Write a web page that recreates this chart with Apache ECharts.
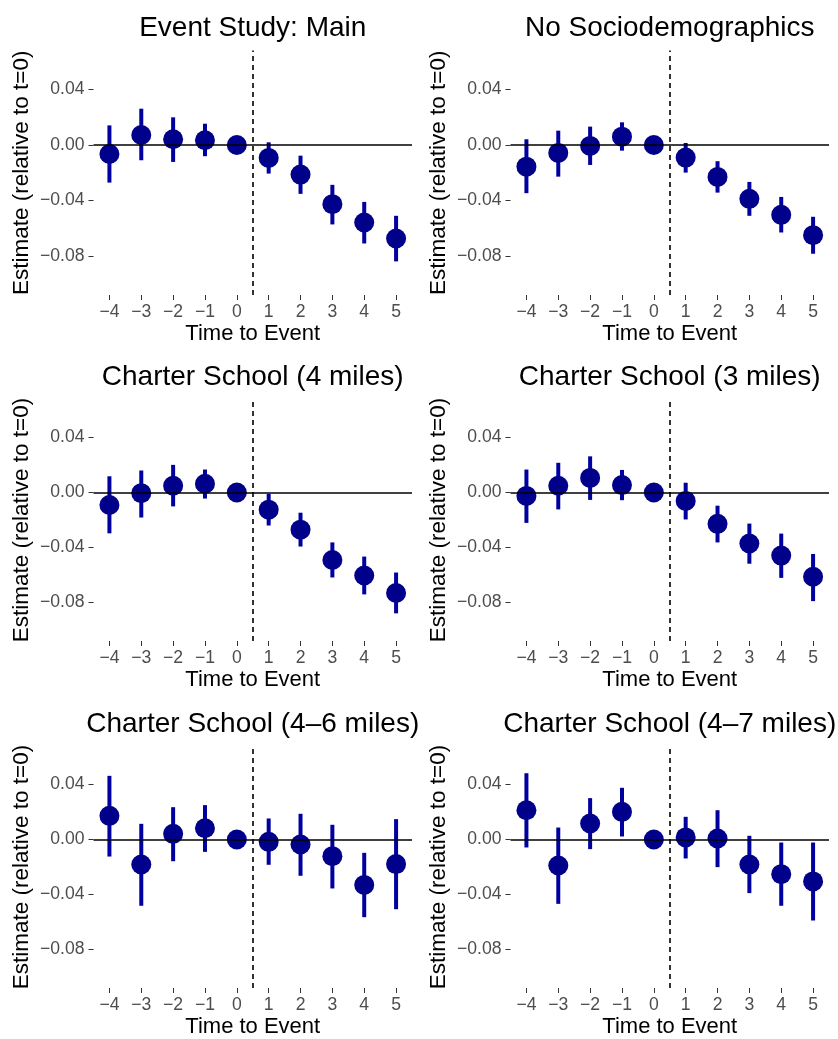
<!DOCTYPE html>
<html>
<head>
<meta charset="utf-8">
<style>
  html, body { margin: 0; padding: 0; background: #fff; }
  #chart { width: 838px; height: 1039px; }
</style>
<script src="https://cdn.jsdelivr.net/npm/echarts@6/dist/echarts.min.js"></script>
</head>
<body>
<div id="chart"></div>
<script>
// time to event (x) and tick labels
const times = [-4, -3, -2, -1, 0, 1, 2, 3, 4, 5];
const yTicks = [0.04, 0, -0.04, -0.08];

// Event Study: Main
const mainEst = [-0.0065, 0.0072, 0.0041, 0.0034, 0, -0.0093, -0.0213, -0.0426, -0.0558, -0.0673];
const mainLo = [-0.0271, -0.0110, -0.0122, -0.0081, 0, -0.0206, -0.0352, -0.0572, -0.0709, -0.0838];
const mainHi = [0.0141, 0.0261, 0.0199, 0.0153, 0, 0.0019, -0.0077, -0.0287, -0.0410, -0.0510];

// No Sociodemographics
const noSocioEst = [-0.0156, -0.0057, -0.0007, 0.0060, 0, -0.0091, -0.0230, -0.0388, -0.0503, -0.0649];
const noSocioLo = [-0.0347, -0.0228, -0.0144, -0.0041, 0, -0.0199, -0.0343, -0.0510, -0.0630, -0.0783];
const noSocioHi = [0.0041, 0.0103, 0.0132, 0.0163, 0, 0.0014, -0.0117, -0.0266, -0.0374, -0.0517];

// Charter School (4 miles)
const cs4Est = [-0.0091, -0.0005, 0.0049, 0.0064, 0, -0.0125, -0.0270, -0.0491, -0.0604, -0.0731];
const cs4Lo = [-0.0297, -0.0182, -0.0101, -0.0044, 0, -0.0240, -0.0393, -0.0618, -0.0741, -0.0879];
const cs4Hi = [0.0118, 0.0160, 0.0201, 0.0167, 0, -0.0010, -0.0147, -0.0363, -0.0466, -0.0582];

// Charter School (3 miles)
const cs3Est = [-0.0025, 0.0049, 0.0106, 0.0054, 0, -0.0061, -0.0228, -0.0371, -0.0459, -0.0613];
const cs3Lo = [-0.0221, -0.0123, -0.0054, -0.0056, 0, -0.0196, -0.0363, -0.0518, -0.0621, -0.0790];
const cs3Hi = [0.0167, 0.0216, 0.0263, 0.0164, 0, 0.0071, -0.0096, -0.0226, -0.0299, -0.0447];

// Charter School (4–6 miles)
const cs46Est = [0.0172, -0.0182, 0.0041, 0.0082, 0, -0.0017, -0.0036, -0.0121, -0.0330, -0.0179];
const cs46Lo = [-0.0124, -0.0482, -0.0158, -0.0090, 0, -0.0184, -0.0264, -0.0356, -0.0565, -0.0507];
const cs46Hi = [0.0463, 0.0114, 0.0235, 0.0250, 0, 0.0153, 0.0187, 0.0107, -0.0097, 0.0148];

// Charter School (4–7 miles)
const cs47Est = [0.0213, -0.0189, 0.0116, 0.0201, 0, 0.0015, 0.0007, -0.0182, -0.0252, -0.0305];
const cs47Lo = [-0.0058, -0.0468, -0.0070, 0.0022, 0, -0.0138, -0.0201, -0.0390, -0.0482, -0.0589];
const cs47Hi = [0.0482, 0.0087, 0.0301, 0.0376, 0, 0.0165, 0.0213, 0.0027, -0.0022, -0.0022];

const panels = [
  { title: 'Event Study: Main', est: mainEst, lo: mainLo, hi: mainHi },
  { title: 'No Sociodemographics', est: noSocioEst, lo: noSocioLo, hi: noSocioHi },
  { title: 'Charter School (4 miles)', est: cs4Est, lo: cs4Lo, hi: cs4Hi },
  { title: 'Charter School (3 miles)', est: cs3Est, lo: cs3Lo, hi: cs3Hi },
  { title: 'Charter School (4\u20136 miles)', est: cs46Est, lo: cs46Lo, hi: cs46Hi },
  { title: 'Charter School (4\u20137 miles)', est: cs47Est, lo: cs47Lo, hi: cs47Hi }
];

const FONT = '"Liberation Sans", Arial, Helvetica, sans-serif';
const POINT_COLOR = '#00008B';
const BAR_COLOR = '#0000A0';

const colLeft = [93.5, 510.5];
const colWidth = 318.5;
const rowTop = [50.5, 399, 746];
const rowHeight = [244.5, 242, 242];

const minus = (s) => String(s).replace('-', '\u2212');

const chart = echarts.init(document.getElementById('chart'), null, { renderer: 'canvas' });

const grid = [], xAxis = [], yAxis = [], title = [], series = [];

panels.forEach((p, i) => {
  const col = i % 2, row = Math.floor(i / 2);
  const left = colLeft[col], top = rowTop[row];

  grid.push({ left: left, top: top, width: colWidth, height: rowHeight[row], containLabel: false });

  title.push({
    text: p.title,
    left: left + colWidth / 2,
    top: top - 36,
    padding: 0,
    textAlign: 'center',
    textStyle: { fontFamily: FONT, fontSize: 28, fontWeight: 'normal', color: '#000' }
  });

  xAxis.push({
    type: 'value',
    gridIndex: i,
    min: -4.5,
    max: 5.5,
    name: 'Time to Event',
    nameLocation: 'middle',
    nameGap: 28,
    nameTextStyle: { fontFamily: FONT, fontSize: 22, color: '#000' },
    axisLine: { show: false, onZero: false },
    axisTick: { show: true, length: 5, customValues: times, lineStyle: { color: '#333', width: 1 } },
    axisLabel: {
      customValues: times, margin: 8,
      fontFamily: FONT, fontSize: 17.6, color: '#4D4D4D',
      formatter: (v) => minus(v)
    },
    splitLine: { show: false }
  });

  yAxis.push({
    type: 'value',
    gridIndex: i,
    min: -0.108,
    max: 0.068,
    name: 'Estimate (relative to t=0)',
    nameLocation: 'middle',
    nameGap: 60,
    nameTextStyle: { fontFamily: FONT, fontSize: 22.5, color: '#000' },
    axisLine: { show: false, onZero: false },
    axisTick: { show: true, length: 5, customValues: yTicks, lineStyle: { color: '#333', width: 1 } },
    axisLabel: {
      customValues: yTicks, margin: 9,
      fontFamily: FONT, fontSize: 17.6, color: '#4D4D4D',
      formatter: (v) => minus(v.toFixed(2))
    },
    splitLine: { show: false }
  });

  // confidence intervals + reference lines
  series.push({
    type: 'custom',
    xAxisIndex: i,
    yAxisIndex: i,
    z: 2,
    silent: true,
    encode: { x: 0, y: [1, 2] },
    data: times.map((t, k) => [t, p.lo[k], p.hi[k]]),
    renderItem: (params, api) => {
      const a = api.coord([api.value(0), api.value(1)]);
      const b = api.coord([api.value(0), api.value(2)]);
      return {
        type: 'line',
        shape: { x1: a[0], y1: a[1], x2: b[0], y2: b[1] },
        style: { stroke: BAR_COLOR, lineWidth: 4 }
      };
    },
    markLine: {
      silent: true,
      symbol: 'none',
      animation: false,
      label: { show: false },
      data: [
        { yAxis: 0, lineStyle: { color: '#000', width: 1.6, type: 'solid' } },
        { xAxis: 0.5, lineStyle: { color: '#000', width: 1.6, type: [5, 4] } }
      ]
    }
  });

  // point estimates
  series.push({
    type: 'scatter',
    xAxisIndex: i,
    yAxisIndex: i,
    z: 3,
    symbol: 'circle',
    symbolSize: 20,
    itemStyle: { color: POINT_COLOR, opacity: 1 },
    data: times.map((t, k) => [t, p.est[k]])
  });
});

chart.setOption({
  backgroundColor: '#fff',
  animation: false,
  title: title,
  grid: grid,
  xAxis: xAxis,
  yAxis: yAxis,
  series: series
});
</script>
</body>
</html>
